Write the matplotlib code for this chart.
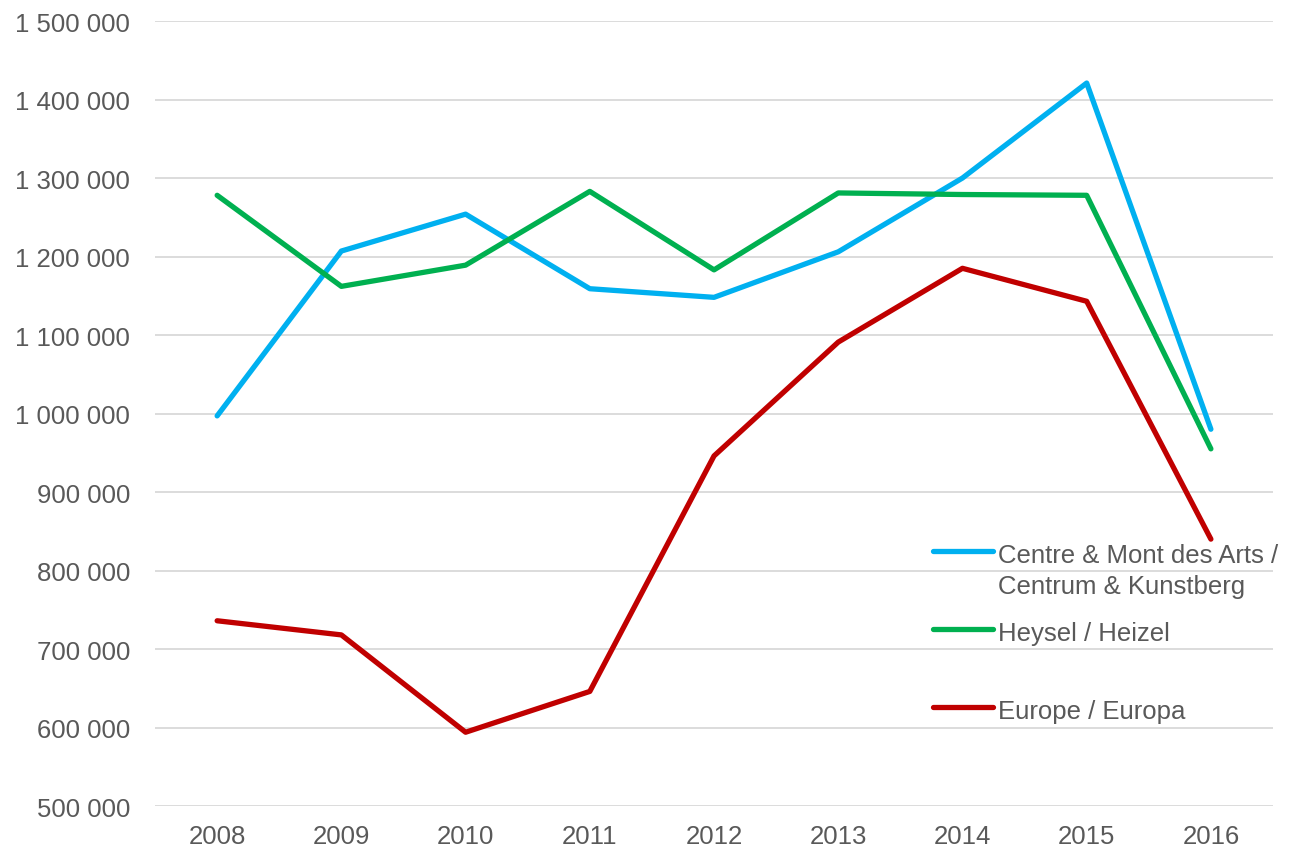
import numpy as np
import matplotlib
matplotlib.use("Agg")
import matplotlib.pyplot as plt
from matplotlib.ticker import FuncFormatter, MultipleLocator

plt.rcParams["font.family"] = ["Liberation Sans", "DejaVu Sans"]

# data
years = ["2008", "2009", "2010", "2011", "2012", "2013", "2014", "2015", "2016"]
centre = [997000, 1207000, 1254000, 1159000, 1148000, 1206000, 1300000, 1421000, 980000]
heysel = [1278000, 1162000, 1189000, 1283000, 1183000, 1281000, 1279000, 1278000, 955000]
europe = [736000, 718000, 594000, 646000, 946000, 1091000, 1185000, 1143000, 840000]

labels = ["Centre & Mont des Arts /\nCentrum & Kunstberg", "Heysel / Heizel", "Europe / Europa"]
colors = ["#00B0F0", "#00B050", "#C00000"]
text_color = "#595959"
fs = 18.5

fig = plt.figure(figsize=(12.92, 8.54), dpi=100)
ax = fig.add_axes([0.12, 0.055, 0.8653, 0.9192])

x = np.arange(len(years))
for series, color in zip([centre, heysel, europe], colors):
    ax.plot(x, series, color=color, linewidth=3.8, solid_capstyle="round", solid_joinstyle="round", zorder=3)

ax.set_xlim(-0.5, len(years) - 0.5)
ax.set_ylim(500000, 1500000)
ax.yaxis.set_major_locator(MultipleLocator(100000))
ax.yaxis.set_major_formatter(FuncFormatter(lambda v, p: f"{int(v):,}".replace(",", " ")))
ax.set_xticks(x)
ax.set_xticklabels(years)

ax.grid(axis="y", color="#D9D9D9", linewidth=1.3, zorder=0)
for s in ax.spines.values():
    s.set_visible(False)
ax.tick_params(axis="both", length=0, labelsize=fs, labelcolor=text_color)
ax.tick_params(axis="y", pad=18)
ax.tick_params(axis="x", pad=13)

# legend drawn by hand to match the stacked layout of the original
leg_y = [0.3248, 0.2255, 0.1261]
for lab, color, yy in zip(labels, colors, leg_y):
    ax.plot([0.696, 0.7496], [yy, yy], transform=ax.transAxes, color=color,
            linewidth=3.8, solid_capstyle="round", clip_on=False, zorder=4)
    ax.text(0.754, yy + 0.0105, lab, transform=ax.transAxes, fontsize=fs,
            color=text_color, va="top", ha="left", linespacing=1.36, zorder=4)

fig.savefig("out.png", dpi=100)
